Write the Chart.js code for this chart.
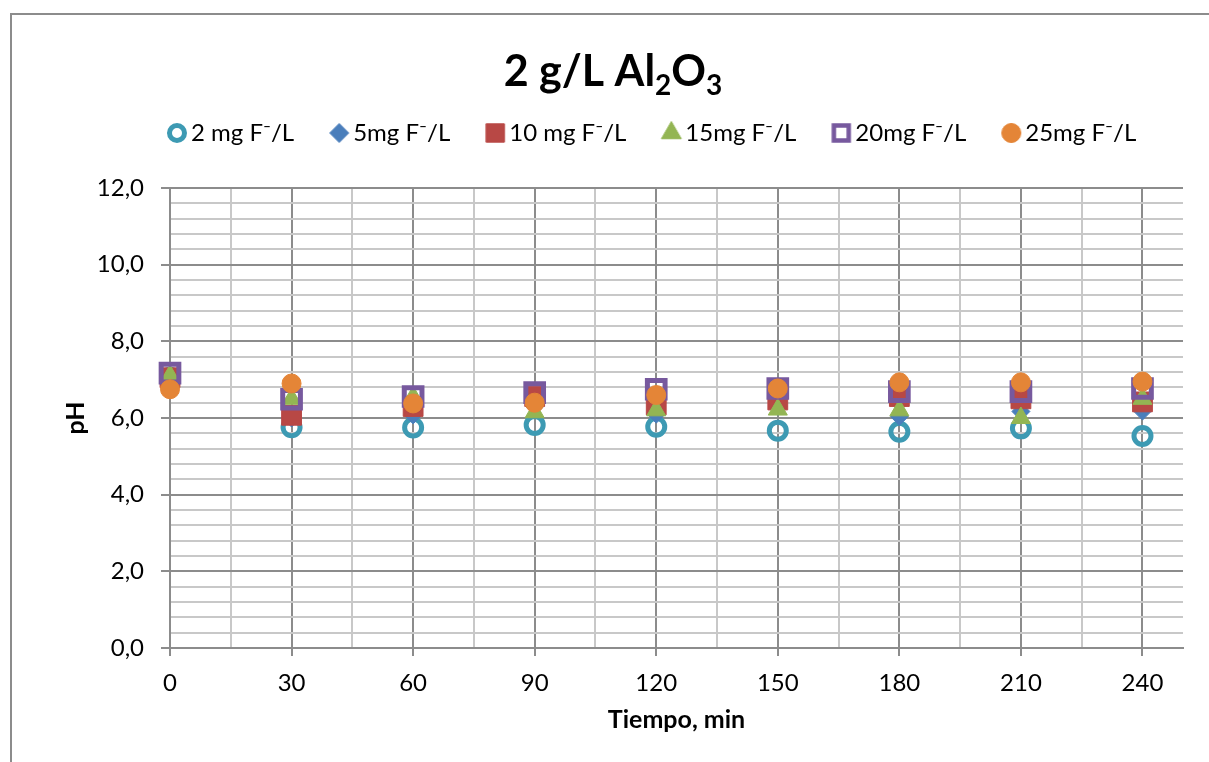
<!DOCTYPE html>
<html>
<head>
<meta charset="utf-8">
<script src="https://cdn.jsdelivr.net/npm/chart.js@4.4.1/dist/chart.umd.min.js"></script>
<style>
  html, body { margin: 0; padding: 0; width: 1209px; height: 762px; overflow: hidden; background: #fff; }
  #wrap { position: absolute; left: 0; top: 0; width: 1209px; height: 762px; }
  #frame { position: absolute; left: 10px; top: 13px; width: 1300px; height: 900px;
           border: 2px solid #8c8c8c; pointer-events: none; }
</style>
</head>
<body>
<div id="wrap"><canvas id="chart" width="1209" height="762"></canvas></div>
<div id="frame"></div>
<script>
// Sampling times (min)
const tiempo = [0, 30, 60, 90, 120, 150, 180, 210, 240];

// pH readings for each fluoride concentration
const ph2mg  = [7.05, 5.76, 5.75, 5.82, 5.77, 5.67, 5.64, 5.73, 5.53];
const ph5mg  = [7.00, 6.00, 6.08, 6.30, 6.10, 6.30, 6.04, 6.17, 6.18];
const ph10mg = [7.05, 6.07, 6.30, 6.56, 6.34, 6.47, 6.56, 6.50, 6.42];
const ph15mg = [7.10, 6.50, 6.55, 6.15, 6.20, 6.22, 6.20, 6.00, 6.50];
const ph20mg = [7.17, 6.49, 6.56, 6.66, 6.75, 6.77, 6.69, 6.69, 6.77];
const ph25mg = [6.75, 6.90, 6.38, 6.40, 6.60, 6.77, 6.93, 6.93, 6.95];

// Legend labels
const seriesLabels = ['2 mg F\u207B/L', '5mg F\u207B/L', '10 mg F\u207B/L',
                      '15mg F\u207B/L', '20mg F\u207B/L', '25mg F\u207B/L'];

// Axis tick labels
const xTickLabels = ['0', '30', '60', '90', '120', '150', '180', '210', '240'];
const yTickLabels = ['0,0', '2,0', '4,0', '6,0', '8,0', '10,0', '12,0'];

const FONT = 'Lato, "Open Sans", "DejaVu Sans", sans-serif';
const MAJOR = '#8c8c8c';
const MINOR = '#c8c8c8';
const NONE = 'rgba(0,0,0,0)';

const pairs = ys => tiempo.map((t, i) => ({ x: t, y: ys[i] }));

// marker look per series; legendRadius/legendBorder size the legend symbol
const styles = [
  { pointStyle: 'circle',   pointRadius: 8.5,  borderWidth: 5, borderColor: '#3d9ab3', backgroundColor: NONE,      legendRadius: 7.5,  legendBorder: 5 },
  { pointStyle: 'rectRot',  pointRadius: 9,    borderWidth: 1, borderColor: '#4a7ebb', backgroundColor: '#4a7ebb', legendRadius: 9.5,  legendBorder: 1 },
  { pointStyle: 'rect',     pointRadius: 14,   borderWidth: 1, borderColor: '#b84845', backgroundColor: '#b84845', legendRadius: 13,   legendBorder: 1 },
  { pointStyle: 'triangle', pointRadius: 11,   borderWidth: 1, borderColor: '#93b553', backgroundColor: '#93b553', legendRadius: 11.5, legendBorder: 1 },
  { pointStyle: 'rect',     pointRadius: 12.5, borderWidth: 5, borderColor: '#77599e', backgroundColor: NONE,      legendRadius: 10.5, legendBorder: 4.5 },
  { pointStyle: 'circle',   pointRadius: 9.5,  borderWidth: 1, borderColor: '#e48537', backgroundColor: '#e48537', legendRadius: 9.5,  legendBorder: 1 }
];
const values = [ph2mg, ph5mg, ph10mg, ph15mg, ph20mg, ph25mg];

// later series are painted over earlier ones
const datasets = values.map((v, i) => ({
  label: seriesLabels[i],
  data: pairs(v),
  showLine: false,
  clip: false,
  order: values.length - i,
  pointStyle: styles[i].pointStyle,
  pointRadius: styles[i].pointRadius,
  pointHoverRadius: styles[i].pointRadius,
  borderWidth: styles[i].borderWidth,
  borderColor: styles[i].borderColor,
  backgroundColor: styles[i].backgroundColor
}));

// small legend symbols drawn with the library's own point renderer
function legendSymbol(s) {
  const c = document.createElement('canvas');
  c.width = 28; c.height = 28;
  const g = c.getContext('2d');
  g.fillStyle = s.backgroundColor;
  g.strokeStyle = s.borderColor;
  g.lineWidth = s.legendBorder;
  Chart.helpers.drawPoint(g, { pointStyle: s.pointStyle, radius: s.legendRadius, rotation: 0, borderWidth: s.legendBorder }, 14, 14);
  return c;
}
const legendSymbols = styles.map(legendSymbol);

const isMajorX = v => Math.abs(v % 30) < 1e-6;
const isMajorY = v => Math.abs(v / 2 - Math.round(v / 2)) < 1e-6;

// Title with subscripts, drawn above the legend
const titlePlugin = {
  id: 'subscriptTitle',
  afterDraw(chart) {
    const ctx = chart.ctx;
    const parts = [['2 g/L Al', false], ['2', true], ['O', false], ['3', true]];
    const big = 'bold 43px ' + FONT, small = 'bold 28px ' + FONT;
    ctx.save();
    ctx.fillStyle = '#000';
    ctx.textBaseline = 'alphabetic';
    ctx.textAlign = 'left';
    let total = 0;
    parts.forEach(([t, sub]) => { ctx.font = sub ? small : big; total += ctx.measureText(t).width; });
    let x = 613 - total / 2;
    const base = 86;
    parts.forEach(([t, sub]) => {
      ctx.font = sub ? small : big;
      ctx.fillText(t, x, sub ? base + 9 : base);
      x += ctx.measureText(t).width;
    });
    ctx.restore();
  }
};

// Places the legend row under the title
const LEGEND_FIRST_LEFT = 175;
const LEGEND_ROW_MID = 133;
const legendPlacement = {
  id: 'legendPlacement',
  afterLayout(chart) {
    const lg = chart.legend;
    const lab = lg.options.labels;
    const dx = LEGEND_FIRST_LEFT - (lg.left + lab.padding);
    const dy = LEGEND_ROW_MID - (lg.top + lab.padding + lab.font.size / 2);
    lg.left += dx; lg.right += dx;
    lg.top += dy; lg.bottom += dy;
  }
};

new Chart(document.getElementById('chart'), {
  type: 'scatter',
  data: { datasets },
  plugins: [titlePlugin, legendPlacement],
  options: {
    responsive: false,
    animation: false,
    devicePixelRatio: 1,
    layout: { padding: { top: 111, left: 10, right: 26, bottom: 0 } },
    plugins: {
      title: { display: false },
      tooltip: { enabled: false },
      legend: {
        display: true,
        position: 'top',
        align: 'start',
        labels: {
          usePointStyle: true,
          boxWidth: 4,
          boxHeight: 12,
          padding: 43,
          color: '#000',
          font: { family: FONT, size: 24 },
          sort: (a, b) => a.datasetIndex - b.datasetIndex,
          generateLabels(chart) {
            const items = Chart.defaults.plugins.legend.labels.generateLabels(chart);
            items.forEach(it => { it.pointStyle = legendSymbols[it.datasetIndex]; });
            return items;
          }
        }
      }
    },
    scales: {
      x: {
        type: 'linear',
        min: 0,
        max: 250,
        afterFit(s) { s.height = 114; },
        ticks: {
          stepSize: 15,
          includeBounds: false,
          autoSkip: false,
          maxRotation: 0,
          padding: 13,
          color: '#000',
          font: { family: FONT, size: 24 },
          callback: v => isMajorX(v) ? xTickLabels[Math.round(v / 30)] : ''
        },
        grid: {
          lineWidth: 2,
          tickLength: 8,
          color: c => isMajorX(c.tick.value) ? MAJOR : MINOR,
          tickColor: c => isMajorX(c.tick.value) ? MAJOR : NONE
        },
        border: { display: true, color: MAJOR, width: 2 },
        title: {
          display: true,
          text: 'Tiempo, min',
          color: '#000',
          font: { family: FONT, size: 25, weight: 'bold' },
          padding: { top: 0, bottom: 27 }
        }
      },
      y: {
        type: 'linear',
        min: 0,
        max: 12,
        afterFit(s) { s.width = 160; },
        ticks: {
          stepSize: 0.4,
          autoSkip: false,
          padding: 17,
          color: '#000',
          font: { family: FONT, size: 24 },
          callback: v => isMajorY(v) ? yTickLabels[Math.round(v / 2)] : ''
        },
        grid: {
          lineWidth: 2,
          tickLength: 9,
          color: c => isMajorY(c.tick.value) ? MAJOR : MINOR,
          tickColor: c => isMajorY(c.tick.value) ? MAJOR : NONE
        },
        border: { display: true, color: MAJOR, width: 2 },
        title: {
          display: true,
          text: 'pH',
          color: '#000',
          font: { family: FONT, size: 25, weight: 'bold' },
          padding: { top: 51, bottom: 0 }
        }
      }
    }
  }
});
</script>
</body>
</html>
